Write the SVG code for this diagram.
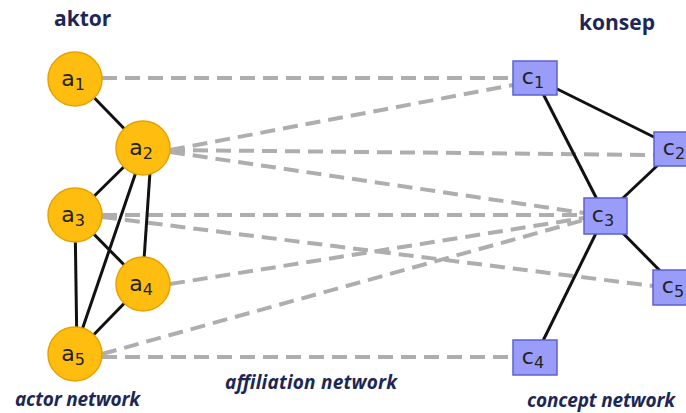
<svg xmlns="http://www.w3.org/2000/svg" width="686" height="413" viewBox="0 0 686 413">
<style>
.title{font-family:"Open Sans","Liberation Sans",sans-serif;font-weight:bold;font-size:21px;fill:#1c2757}
.cap{font-family:"Open Sans","Liberation Sans",sans-serif;font-weight:bold;font-style:italic;font-size:19px;fill:#1c2757}
.act circle{fill:#FFBE0F;stroke:#E8A200;stroke-width:1.5}
.con rect{fill:#9A9CFA;stroke:#5D60D0;stroke-width:1.5}
.lbl{font-family:"DejaVu Sans","Liberation Sans",sans-serif;font-size:22px;fill:#222;text-anchor:middle}
.sub{font-size:16px}
.solid line{stroke:#111;stroke-width:3}
.dash line{stroke:#AEAEAE;stroke-width:4;stroke-dasharray:15 8}
</style>
<rect width="686" height="413" fill="#fff"/>
<text class="title" x="54" y="26">aktor</text>
<text class="title" x="579" y="30">konsep</text>
<g id="connectors">
<g class="dash">
<line x1="102" y1="78" x2="513" y2="78"/>
<line x1="170" y1="150" x2="513" y2="85"/>
<line x1="170" y1="150" x2="654" y2="155"/>
<line x1="170" y1="152" x2="584" y2="213"/>
<line x1="102" y1="215" x2="584" y2="215"/>
<line x1="102" y1="217" x2="653" y2="286"/>
<line x1="170" y1="284" x2="584" y2="218"/>
<line x1="102" y1="354" x2="584" y2="220"/>
<line x1="102" y1="357" x2="513" y2="357"/>
</g>
<g class="solid">
<line x1="75" y1="78" x2="143" y2="148"/>
<line x1="143" y1="148" x2="75" y2="215"/>
<line x1="136" y1="172" x2="82" y2="330"/>
<line x1="150" y1="172" x2="144" y2="260"/>
<line x1="75" y1="215" x2="143" y2="284"/>
<line x1="75" y1="215" x2="77" y2="354"/>
<line x1="143" y1="284" x2="75" y2="354"/>
<line x1="535" y1="78" x2="676" y2="148"/>
<line x1="535" y1="78" x2="605" y2="215"/>
<line x1="676" y1="148" x2="605" y2="215"/>
<line x1="605" y1="215" x2="676" y2="287"/>
<line x1="605" y1="215" x2="535" y2="357"/>
</g>
</g>
<g id="a1" class="act"><circle cx="75" cy="79" r="27"/><text class="lbl" x="73" y="86">a<tspan class="sub" dy="4">1</tspan></text></g>
<g id="a2" class="act"><circle cx="143" cy="148" r="27"/><text class="lbl" x="141" y="155">a<tspan class="sub" dy="4">2</tspan></text></g>
<g id="a3" class="act"><circle cx="75" cy="215" r="27"/><text class="lbl" x="73" y="222">a<tspan class="sub" dy="4">3</tspan></text></g>
<g id="a4" class="act"><circle cx="143" cy="284" r="27"/><text class="lbl" x="141" y="291">a<tspan class="sub" dy="4">4</tspan></text></g>
<g id="a5" class="act"><circle cx="75" cy="354" r="27"/><text class="lbl" x="73" y="361">a<tspan class="sub" dy="4">5</tspan></text></g>
<g id="c1" class="con"><rect x="513" y="61" width="44" height="34"/><text class="lbl" x="533" y="84">c<tspan class="sub" dy="4">1</tspan></text></g>
<g id="c2" class="con"><rect x="654" y="132" width="44" height="34"/><text class="lbl" x="674" y="155">c<tspan class="sub" dy="4">2</tspan></text></g>
<g id="c3" class="con"><rect x="584" y="198" width="43" height="36"/><text class="lbl" x="603" y="222">c<tspan class="sub" dy="4">3</tspan></text></g>
<g id="c5" class="con"><rect x="653" y="270" width="44" height="35"/><text class="lbl" x="673" y="293">c<tspan class="sub" dy="4">5</tspan></text></g>
<g id="c4" class="con"><rect x="513" y="340" width="44" height="35"/><text class="lbl" x="533" y="364">c<tspan class="sub" dy="4">4</tspan></text></g>
<text class="cap" x="15" y="406" textLength="125">actor network</text>
<text class="cap" x="225" y="389" textLength="172">affiliation network</text>
<text class="cap" x="527" y="407" textLength="148">concept network</text>
</svg>
